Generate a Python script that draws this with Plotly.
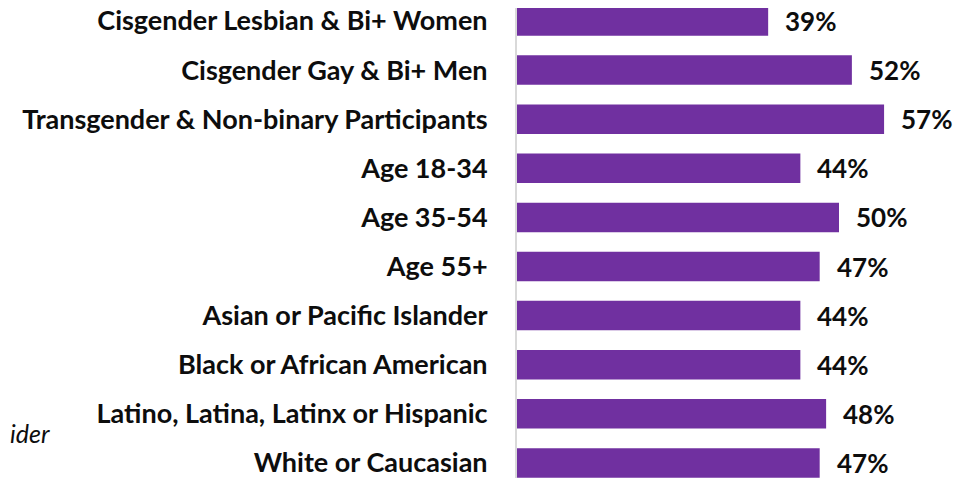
import plotly.graph_objects as go

categories = [
    "Cisgender Lesbian & Bi+ Women",
    "Cisgender Gay & Bi+ Men",
    "Transgender & Non-binary Participants",
    "Age 18-34",
    "Age 35-54",
    "Age 55+",
    "Asian or Pacific Islander",
    "Black or African American",
    "Latino, Latina, Latinx or Hispanic",
    "White or Caucasian",
]
values = [39, 52, 57, 44, 50, 47, 44, 44, 48, 47]
value_labels = [f"{v}%" for v in values]

W, H = 969, 478
OFF = 8          # page body margin offset
ML = 517 - OFF
PW = W - ML
FONT = "Lato"
BAR = "#7030A0"
TXT = "#0d0d0d"

fig = go.Figure()
fig.add_trace(go.Bar(
    x=values, y=categories, orientation="h",
    marker=dict(color=BAR, line=dict(width=0)),
    width=0.6, hoverinfo="skip",
))

for c, v, t in zip(categories, values, value_labels):
    fig.add_annotation(x=v, y=c, xref="x", yref="y", text=f"<b>{t}</b>",
                       showarrow=False, xanchor="left", yanchor="middle",
                       xshift=15, font=dict(family=FONT, size=26, color=TXT))

fig.add_annotation(x=-ML / PW, y=1 - (433 - OFF) / H, xref="paper", yref="paper",
                   text="<i>ider</i>", showarrow=False, xanchor="left", yanchor="middle",
                   font=dict(family=FONT, size=25, color=TXT))

top_px, pitch = 21 - OFF, 49.1
fig.update_layout(
    width=W, height=H,
    margin=dict(l=ML, r=0, t=0, b=0, autoexpand=False),
    paper_bgcolor="white", plot_bgcolor="white",
    showlegend=False,
    xaxis=dict(range=[0, PW / 6.44], visible=False, fixedrange=True, automargin=False),
    yaxis=dict(
        categoryorder="array", categoryarray=categories,
        range=[(H - top_px) / pitch, -top_px / pitch],
        showline=True, linecolor="#d9d9d9", linewidth=2,
        ticks="", showgrid=False, zeroline=False, automargin=False,
        tickfont=dict(family=FONT, size=27, color=TXT),
        ticklabelstandoff=22,
        tickprefix="<b>", ticksuffix="</b>",
    ),
)

fig.write_html("out.html")
